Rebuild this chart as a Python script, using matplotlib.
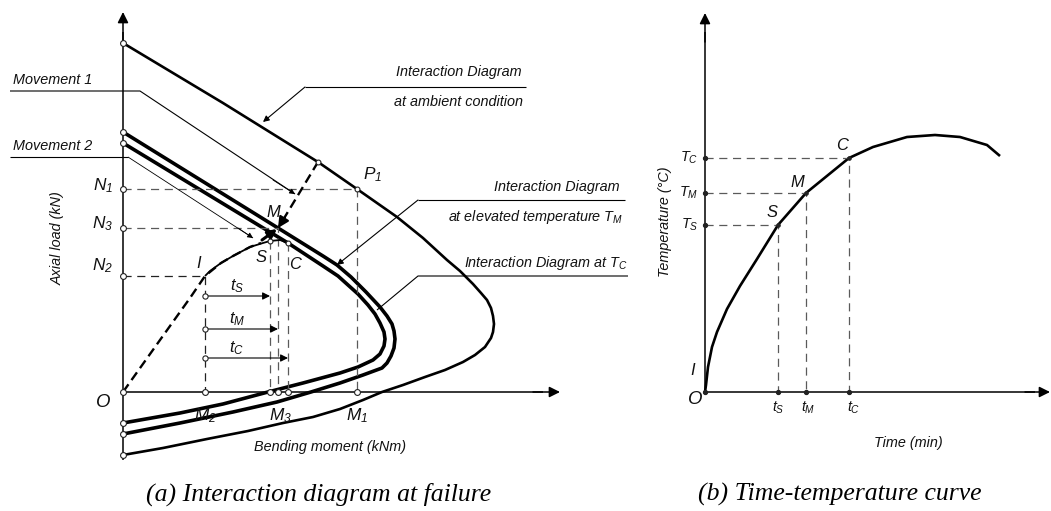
import matplotlib
matplotlib.use('Agg')
import matplotlib.pyplot as plt
from matplotlib import font_manager

# ---------- (a) interaction diagram (moment, axial load in drawing units) ----------
amb_m = [0, 100, 195, 234, 274, 300, 324, 337, 350, 358, 364, 368, 370, 371, 370, 368, 362,
         352, 340, 322, 302, 280, 259, 240, 217, 190, 160, 125, 84, 40, 0]
amb_n = [349, 289, 230, 203, 175, 154, 132, 121, 108, 99, 92, 84, 76, 68, 60, 54, 45,
         37, 30, 22, 15, 7, 0, -8, -17, -25, -31, -39, -47, -56, -63]

tm_m = [0, 155, 200, 214, 228, 243, 257, 264, 269, 271, 272, 271, 268, 264, 259,
        240, 217, 188, 154, 110, 57, 0]
tm_n = [260, 164, 136, 127, 115, 100, 85, 76, 68, 61, 53, 44, 36, 29, 24,
        17, 9, 0, -10, -20, -31, -42]

tc_m = [0, 165, 200, 215, 235, 245, 252, 257, 261, 262, 261, 257, 250,
        235, 217, 180, 145, 100, 57, 0]
tc_n = [249, 149, 126, 116, 98, 87, 78, 69, 60, 53, 46, 38, 32,
        25, 19, 9, 0, -12, -21, -31]

# failure path I -> S -> C
path_m = [82, 87, 98, 110, 127, 140, 147, 157, 165]
path_n = [116, 121, 129, 136, 145, 149, 151, 152, 149]

# loading path O -> I -> S (dashed)
load_m = [0, 37, 67, 82, 98, 110, 127, 138]
load_n = [0, 52, 94, 116, 129, 136, 145, 149]

N1, N3, N2 = 203, 164, 116
M2, M3, M1 = 82, 155, 234
I_pt = (82, 116)
S_pt = (147, 151)
M_pt = (155, 164)
C_pt = (165, 149)
P1_pt = (234, 203)
A_pt = (195, 230)          # start of movement 1 on ambient diagram

t_heights = [96, 63, 34]
t_ends = [147, 155, 165]
t_names = ['S', 'M', 'C']

# ---------- (b) time-temperature curve ----------
time_v = [0, 1, 3, 7, 12, 22, 35, 52, 73, 101, 144, 168, 202, 230, 255, 282, 295]
temp_v = [0, 7, 25, 45, 60, 83, 106, 133, 167, 199, 234, 245, 255, 257, 255, 247, 236]
t_S, t_M, t_C = 73, 101, 144
T_S, T_M, T_C = 167, 199, 234

# ---------- fonts ----------
names = {f.name for f in font_manager.fontManager.ttflist}
if 'Liberation Sans Narrow' in names:
    sans, fs = 'Liberation Sans Narrow', 12.3
else:
    sans, fs = 'Liberation Sans', 10.4
plt.rcParams['mathtext.fontset'] = 'custom'
plt.rcParams['mathtext.it'] = sans + ':italic'
plt.rcParams['mathtext.rm'] = sans + ':italic'
plt.rcParams['mathtext.bf'] = sans + ':italic'
plt.rcParams['lines.solid_capstyle'] = 'butt'
plt.rcParams['lines.solid_joinstyle'] = 'round'

GREY = '#5a5a5a'
W, H = 1051, 511
fig = plt.figure(figsize=(W / 100, H / 100), dpi=100)
fig.patch.set_facecolor('white')


def lab(ax, x, y, s, size=fs, **kw):
    kw.setdefault('ha', 'center')
    kw.setdefault('va', 'center')
    ax.text(x, y, s, fontsize=size, family=sans, style='italic', color='#111111', **kw)


def arrow(ax, start, end, lw=0.8, ms=9, color='k'):
    ax.annotate('', xy=end, xytext=start,
                arrowprops=dict(arrowstyle='-|>', lw=lw, color=color, mutation_scale=ms,
                                shrinkA=0, shrinkB=0))


def dashed(ax, xs, ys, color=GREY, lw=0.9):
    ax.plot(xs, ys, color=color, lw=lw, dashes=(6.5, 4.5))


def dots(ax, xs, ys, filled=False, ms=4.2):
    ax.plot(xs, ys, 'o', ms=ms, mec='#222222', mew=0.8,
            mfc='#222222' if filled else 'white', ls='none', zorder=5)


# ================= left panel =================
ax = fig.add_axes([0, 0, 640 / W, 1])
ax.set_xlim(-123, 517)
ax.set_ylim(-119, 392)
ax.axis('off')

# axes with arrows
ax.plot([0, 0], [-68, 360], color='k', lw=1.1)
arrow(ax, (0, 350), (0, 380), lw=1.1, ms=16)
ax.plot([0, 420], [0, 0], color='k', lw=1.1)
arrow(ax, (410, 0), (437, 0), lw=1.1, ms=16)

# interaction diagrams
ax.plot(amb_m, amb_n, color='k', lw=1.9)
ax.plot(tm_m, tm_n, color='k', lw=2.6)
ax.plot(tc_m, tc_n, color='k', lw=2.6)

# projection lines
dashed(ax, [0, P1_pt[0], P1_pt[0]], [N1, N1, 0])
dashed(ax, [0, M_pt[0], M_pt[0]], [N3, N3, 0])
dashed(ax, [0, I_pt[0], I_pt[0]], [N2, N2, 0], color='#222222')
dashed(ax, [S_pt[0], S_pt[0]], [S_pt[1], 0])
dashed(ax, [C_pt[0], C_pt[0]], [C_pt[1], 0])

# failure path and loading path
ax.plot(path_m, path_n, color='k', lw=1.3)
ax.plot(load_m, load_n, color='k', lw=1.7, dashes=(4, 2.2))

# movement 1: ambient -> M
ax.plot([A_pt[0], 160], [A_pt[1], 172], color='k', lw=1.7, dashes=(4, 2.2))
arrow(ax, (162, 175), M_pt, lw=1.6, ms=16)
# movement 2: S -> M
arrow(ax, (139, 152), (154, 163), lw=2.2, ms=13)

# time arrows
for h, e, nm in zip(t_heights, t_ends, t_names):
    arrow(ax, (M2, h), (e, h), lw=0.8, ms=11)
    lab(ax, 114, h + 10, '$t_' + nm + '$', size=fs + 1.5)
dots(ax, [M2] * 3, t_heights, ms=3.8)

# dots on axes and diagrams
dots(ax, [0] * 10, [amb_n[0], tm_n[0], tc_n[0], N1, N3, N2, 0, tc_n[-1], tm_n[-1], amb_n[-1]])
dots(ax, [M2, S_pt[0], M3, C_pt[0], M1], [0] * 5)
dots(ax, [P1_pt[0], S_pt[0], C_pt[0], A_pt[0]], [P1_pt[1], S_pt[1], C_pt[1], A_pt[1]], ms=3.5)

# point and axis labels
lab(ax, -10, N1 + 3, '$N_1$', size=fs + 2, ha='right')
lab(ax, -10, N3 + 4, '$N_3$', size=fs + 2, ha='right')
lab(ax, -10, N2 + 10, '$N_2$', size=fs + 2, ha='right')
lab(ax, -20, -10, 'O', size=fs + 3)
lab(ax, M2, -24, '$M_2$', size=fs + 2)
lab(ax, M3 + 2, -24, '$M_3$', size=fs + 2)
lab(ax, M1, -24, '$M_1$', size=fs + 2)
lab(ax, 250, 217, '$P_1$', size=fs + 2)
lab(ax, 150, 180, 'M', size=fs + 1.5)
lab(ax, 138, 135, 'S', size=fs + 1.5)
lab(ax, 172, 128, 'C', size=fs + 1.5)
lab(ax, 76, 129, 'I', size=fs + 1.5)
lab(ax, -65, 154, 'Axial load (kN)', rotation=90)
lab(ax, 207, -55, 'Bending moment (kNm)')

# leaders: movement labels
ax.plot([-113, 17, 172], [301, 301, 198], color='k', lw=0.8)
ax.plot([-113, 5], [235, 235], color='k', lw=0.8)
ax.plot([5, 130], [235, 154], color='k', lw=0.6)
lab(ax, -110, 312, 'Movement 1', ha='left')
lab(ax, -110, 246, 'Movement 2', ha='left')
arrow(ax, (150, 212), (172, 198), lw=0.6, ms=8)
arrow(ax, (115, 164), (130, 154), lw=0.6, ms=8)

# leaders: diagram labels
ax.plot([403, 182], [305, 305], color='k', lw=0.8)
arrow(ax, (182, 305), (140, 270), lw=0.8, ms=9)
lab(ax, 399, 320, 'Interaction Diagram', ha='right')
lab(ax, 400, 290, 'at ambient condition', ha='right')

ax.plot([502, 295], [192, 192], color='k', lw=0.8)
arrow(ax, (295, 192), (214, 127), lw=0.8, ms=9)
lab(ax, 497, 205, 'Interaction Diagram', ha='right')
lab(ax, 500, 175, 'at elevated temperature $T_M$', ha='right')

ax.plot([505, 295, 254], [116, 116, 82], color='k', lw=0.8)
lab(ax, 505, 129, 'Interaction Diagram at $T_C$', ha='right')

# ================= right panel =================
bx = fig.add_axes([640 / W, 0, 411 / W, 1])
bx.set_xlim(-65, 346)
bx.set_ylim(-119, 392)
bx.axis('off')

bx.plot([0, 0], [0, 360], color='k', lw=1.1)
arrow(bx, (0, 350), (0, 379), lw=1.1, ms=16)
bx.plot([0, 330], [0, 0], color='k', lw=1.1)
arrow(bx, (320, 0), (345, 0), lw=1.1, ms=16)

bx.plot(time_v, temp_v, color='k', lw=1.9)

for tt, TT in [(t_S, T_S), (t_M, T_M), (t_C, T_C)]:
    dashed(bx, [0, tt, tt], [TT, TT, 0])
dots(bx, [0, 0, 0, 0, t_S, t_M, t_C], [T_S, T_M, T_C, 0, 0, 0, 0], filled=True, ms=3)
dots(bx, [t_S, t_M, t_C], [T_S, T_M, T_C], filled=True, ms=2.5)

lab(bx, -7, T_C, '$T_C$', size=fs, ha='right')
lab(bx, -7, T_M, '$T_M$', size=fs, ha='right')
lab(bx, -7, T_S, '$T_S$', size=fs, ha='right')
lab(bx, 137, 247, 'C', size=fs + 1.5)
lab(bx, 92, 210, 'M', size=fs + 1.5)
lab(bx, 67, 180, 'S', size=fs + 1.5)
lab(bx, -12, 22, 'I', size=fs + 1.5)
lab(bx, -10, -7, 'O', size=fs + 3)
lab(bx, t_S, -16, '$t_S$', size=fs)
lab(bx, t_M + 2, -16, '$t_M$', size=fs)
lab(bx, t_C + 5, -16, '$t_C$', size=fs)
lab(bx, -40, 170, 'Temperature (°C)', rotation=90)
lab(bx, 203, -51, 'Time (min)')

# captions
cap = dict(fontsize=18.5, family='Liberation Serif', style='italic', ha='center', va='center')
fig.text(319 / W, 1 - 494 / H, '(a) Interaction diagram at failure', **cap)
fig.text(840 / W, 1 - 494 / H, '(b) Time-temperature curve', **cap)

fig.savefig('out.png', dpi=100, facecolor='white')
